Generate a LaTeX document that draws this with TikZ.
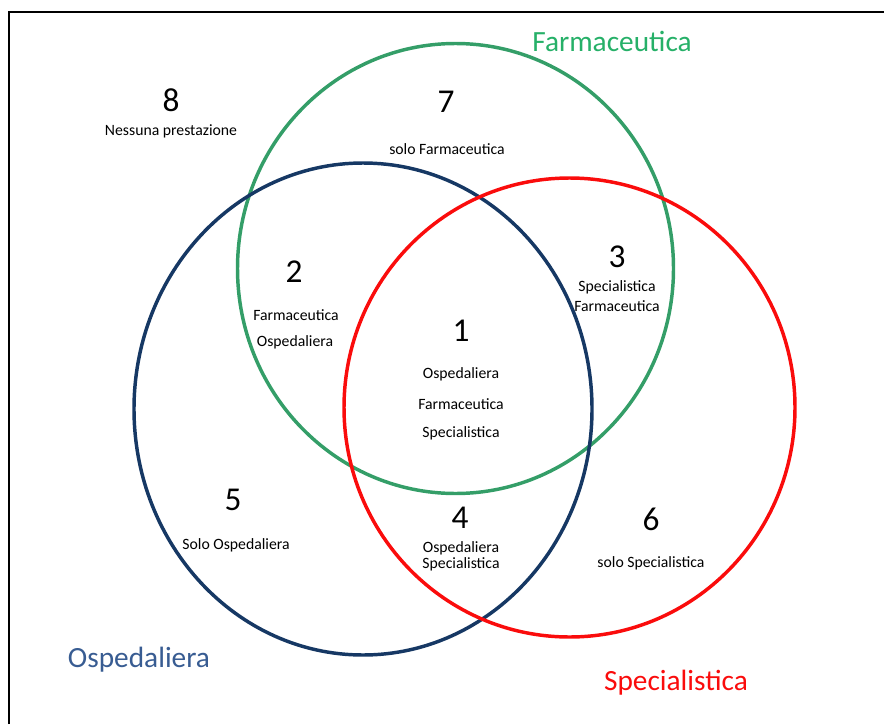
\documentclass[tikz,border=0pt]{standalone}
\usepackage{fontspec}
\setmainfont{Carlito}
\definecolor{farmgreen}{RGB}{52,158,104}
\definecolor{farmtext}{RGB}{38,176,104}
\definecolor{ospblue}{RGB}{22,56,100}
\definecolor{osptext}{RGB}{56,92,146}
\definecolor{specred}{RGB}{250,12,12}
\tikzset{
  setcircle/.style={line width=2.6pt},
  setname/.style={font=\fontsize{22}{26}\selectfont, inner sep=0pt},
  regionnum/.style={font=\fontsize{25}{30}\selectfont, inner sep=0pt},
  regiontxt/.style={font=\fontsize{11.8}{14}\selectfont, inner sep=0pt}
}
\begin{document}
\begin{tikzpicture}[x=0.75pt, y=-0.75pt]
				\useasboundingbox (0, 0) rectangle (884, 724);
				% Frame
				\draw[line width=1.6pt] (9, 724)--(9, 12)--(884, 12);
				
				% Circles
				% Farmaceutica
				\draw[setcircle, farmgreen] (455.5, 268.5) ellipse [x radius=218, y radius=225];
				% Ospedaliera
				\draw[setcircle, ospblue] (363, 409) ellipse [x radius=229, y radius=246];
				% Specialistica
				\draw[setcircle, specred] (569.5, 407.5) ellipse [x radius=225.5, y radius=229.5];
				
				% Set names
				\node[setname, text=farmtext] (farm) at (612, 41) {Farmaceutica};
				\node[setname, text=osptext] (osp) at (139, 660) {Ospedaliera};
				\node[setname, text=specred] (spec) at (676, 683) {Specialistica};
				
				% Regions
				% 8: outside
				\node[regionnum] (n8) at (171, 100) {8};
				\node[regiontxt] (t8) at (171, 131) {Nessuna prestazione};
				% 7: solo Farmaceutica
				\node[regionnum] (n7) at (446, 102) {7};
				\node[regiontxt] (t7) at (447, 149) {solo Farmaceutica};
				% 2: Farmaceutica + Ospedaliera
				\node[regionnum] (n2) at (294, 272) {2};
				\node[regiontxt] (t2a) at (296, 315) {Farmaceutica};
				\node[regiontxt] (t2b) at (295, 342) {Ospedaliera};
				% 3: Specialistica + Farmaceutica
				\node[regionnum] (n3) at (617, 257) {3};
				\node[regiontxt] (t3a) at (617, 287) {Specialistica};
				\node[regiontxt] (t3b) at (617, 306) {Farmaceutica};
				% 1: all three
				\node[regionnum] (n1) at (461, 331) {1};
				\node[regiontxt] (t1a) at (461, 374) {Ospedaliera};
				\node[regiontxt] (t1b) at (461, 404) {Farmaceutica};
				\node[regiontxt] (t1c) at (461, 433) {Specialistica};
				% 5: solo Ospedaliera
				\node[regionnum] (n5) at (233, 500) {5};
				\node[regiontxt] (t5) at (236, 545) {Solo Ospedaliera};
				% 4: Ospedaliera + Specialistica
				\node[regionnum] (n4) at (460, 518) {4};
				\node[regiontxt] (t4a) at (461, 548) {Ospedaliera};
				\node[regiontxt] (t4b) at (461, 564) {Specialistica};
				% 6: solo Specialistica
				\node[regionnum] (n6) at (651, 519) {6};
				\node[regiontxt] (t6) at (651, 563) {solo Specialistica};
			\end{tikzpicture}
\end{document}
